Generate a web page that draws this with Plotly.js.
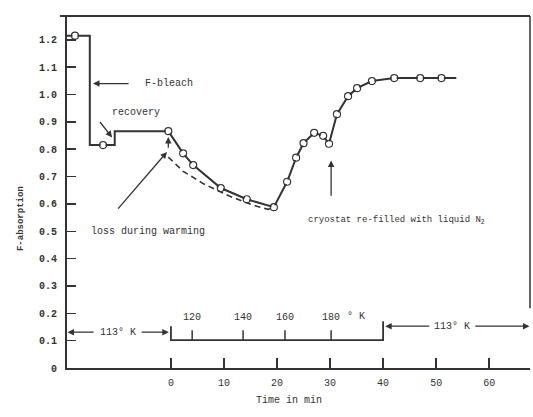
<!DOCTYPE html>
<html>
<head>
<meta charset="utf-8">
<script src="https://cdn.plot.ly/plotly-3.0.1.min.js"></script>
<style>html,body{margin:0;padding:0;background:#fff;}#chart{width:533px;height:417px;}</style>
</head>
<body>
<div id="chart"></div>
<script>
// ---- data ----
// before warming (time in min relative to start of warming)
const earlyTimes = [-18.1, -12.8];
const earlyValues = [1.215, 0.815];
// step history: F-bleach then recovery
const stepTimes = [-19.6, -15.3, -15.3, -10.6, -10.6, -0.5];
const stepValues = [1.215, 1.215, 0.815, 0.815, 0.866, 0.866];
// measured points during warming / re-cooling
const times = [-0.5, 2.3, 4.2, 9.4, 14.3, 19.4, 21.9, 23.6, 25.0, 27.0, 28.7, 29.8, 31.3, 33.4, 35.1, 37.9, 42.1, 47.0, 51.0];
const values = [0.866, 0.785, 0.742, 0.658, 0.617, 0.588, 0.681, 0.769, 0.822, 0.860, 0.849, 0.820, 0.928, 0.994, 1.023, 1.049, 1.060, 1.060, 1.060];
const lineEndTime = 53.8;
const lineEndValue = 1.060;
// dashed curve: loss during warming
const dashTimes = [-0.5, 0.75, 2.3, 4.2, 6.0, 8.7, 11.1, 13.6, 16.2, 18.3, 19.4];
const dashValues = [0.771, 0.748, 0.719, 0.697, 0.675, 0.650, 0.628, 0.609, 0.591, 0.580, 0.586];
// temperature scale (K) against time
const tempLabels = ['120', '140', '160', '180'];
const tempTimes = [4.0, 13.6, 21.5, 30.2];
const tempScaleStart = 0;
const tempScaleEnd = 40;
// axis ticks
const yTickVals = [0, 0.1, 0.2, 0.3, 0.4, 0.5, 0.6, 0.7, 0.8, 0.9, 1.0, 1.1, 1.2];
const yTickText = ['0', '0.1', '0.2', '0.3', '0.4', '0.5', '0.6', '0.7', '0.8', '0.9', '1.0', '1.1', '1.2'];
const xTickVals = [0, 10, 20, 30, 40, 50, 60];
const xTickText = ['0', '10', '20', '30', '40', '50', '60'];

const ink = '#333333';
const FONT = 'Liberation Mono, DejaVu Sans Mono, monospace';

const traces = [
  {x: stepTimes, y: stepValues, mode: 'lines', line: {color: ink, width: 2}, hoverinfo: 'skip'},
  {x: dashTimes, y: dashValues, mode: 'lines', line: {color: ink, width: 1.6, dash: '6px,4px'}, hoverinfo: 'skip'},
  {x: times.concat([lineEndTime]), y: values.concat([lineEndValue]), mode: 'lines', line: {color: ink, width: 2}, hoverinfo: 'skip'},
  {x: earlyTimes.concat(times), y: earlyValues.concat(values), mode: 'markers',
   marker: {symbol: 'circle-open', size: 7, color: ink, line: {width: 1.2, color: ink}}},
  {x: earlyTimes.concat(times), y: earlyValues.concat(values), mode: 'markers',
   marker: {symbol: 'circle', size: 5, color: '#ffffff'}, hoverinfo: 'skip'}
];

function arrow(xHead, yHead, xTail, yTail) {
  return {x: xHead, y: yHead, ax: xTail, ay: yTail, xref: 'x', yref: 'y', axref: 'x', ayref: 'y',
    text: '', showarrow: true, arrowhead: 2, arrowsize: 1, arrowwidth: 1.3, arrowcolor: ink};
}
function label(x, y, text, size) {
  return {x: x, y: y, xref: 'x', yref: 'y', text: text, showarrow: false,
    font: {family: FONT, size: size || 10, color: ink}};
}

const annotations = [
  label(-0.4, 1.04, 'F-bleach', 10),
  arrow(-14.7, 1.04, -7.7, 1.04),
  label(-6.6, 0.934, 'recovery', 10),
  arrow(-11.1, 0.843, -13.6, 0.905),
  label(-4.3, 0.50, 'loss during warming', 10),
  arrow(-0.75, 0.79, -10.2, 0.577),
  arrow(-0.5, 0.845, -0.5, 0.80),
  label(42.6, 0.54, 'cryostat re-filled with liquid N<sub>2</sub>', 9),
  arrow(30.2, 0.759, 30.2, 0.624),
  label(-10.0, 0.131, '113° K', 10),
  arrow(-19.5, 0.131, -14.3, 0.131),
  arrow(-0.4, 0.131, -5.8, 0.131),
  label(53.0, 0.153, '113° K', 10),
  arrow(40.4, 0.153, 49.0, 0.153),
  arrow(67.6, 0.153, 57.1, 0.153),
  label(34.8, 0.19, '° K', 10),
  {x: -0.1145, y: 0.426, xref: 'paper', yref: 'paper', text: 'F-absorption', textangle: -90,
   showarrow: false, font: {family: FONT, size: 9, color: ink, weight: 'bold'}},
  {x: 0.479, y: -0.114, xref: 'paper', yref: 'paper', text: 'Time in min',
   showarrow: false, font: {family: FONT, size: 10, color: ink}}
];
tempLabels.forEach((t, i) => annotations.push(label(tempTimes[i], 0.186, t, 10)));

const shapes = [
  {type: 'line', xref: 'paper', yref: 'paper', x0: -0.015, x1: 1, y0: 1, y1: 1, line: {color: ink, width: 2}},
  {type: 'line', xref: 'paper', yref: 'paper', x0: 1, x1: 1, y0: 1, y1: 0.17, line: {color: ink, width: 1.5}},
  {type: 'path', xref: 'x', yref: 'y',
   path: 'M ' + tempScaleStart + ',0.153 L ' + tempScaleStart + ',0.102 L ' + tempScaleEnd + ',0.102 L ' + tempScaleEnd + ',0.171',
   line: {color: ink, width: 1.8}}
];
tempTimes.forEach(t => shapes.push({type: 'line', xref: 'x', yref: 'y', x0: t, x1: t, y0: 0.102, y1: 0.138,
  line: {color: ink, width: 1.5}}));

const layout = {
  width: 533, height: 417,
  margin: {l: 67, r: 3, t: 16, b: 49},
  paper_bgcolor: '#ffffff', plot_bgcolor: '#ffffff',
  showlegend: false,
  font: {family: FONT, size: 10, color: ink},
  xaxis: {range: [-19.6, 67.7], showgrid: false, zeroline: false, showline: true, linecolor: ink, linewidth: 2,
    tickvals: xTickVals, ticktext: xTickText, ticks: 'inside', ticklen: 10, tickwidth: 1.5, tickcolor: ink,
    tickfont: {family: FONT, size: 10, color: ink}, ticklabelstandoff: 4},
  yaxis: {range: [0, 1.287], showgrid: false, zeroline: false, showline: true, linecolor: ink, linewidth: 2,
    tickvals: yTickVals, ticktext: yTickText, ticks: 'inside', ticklen: 9, tickwidth: 1.5, tickcolor: ink,
    tickfont: {family: FONT, size: 10, color: ink, weight: 'bold'}, ticklabelstandoff: 6},
  annotations: annotations,
  shapes: shapes
};

Plotly.newPlot('chart', traces, layout, {displayModeBar: false, staticPlot: true});
</script>
</body>
</html>
